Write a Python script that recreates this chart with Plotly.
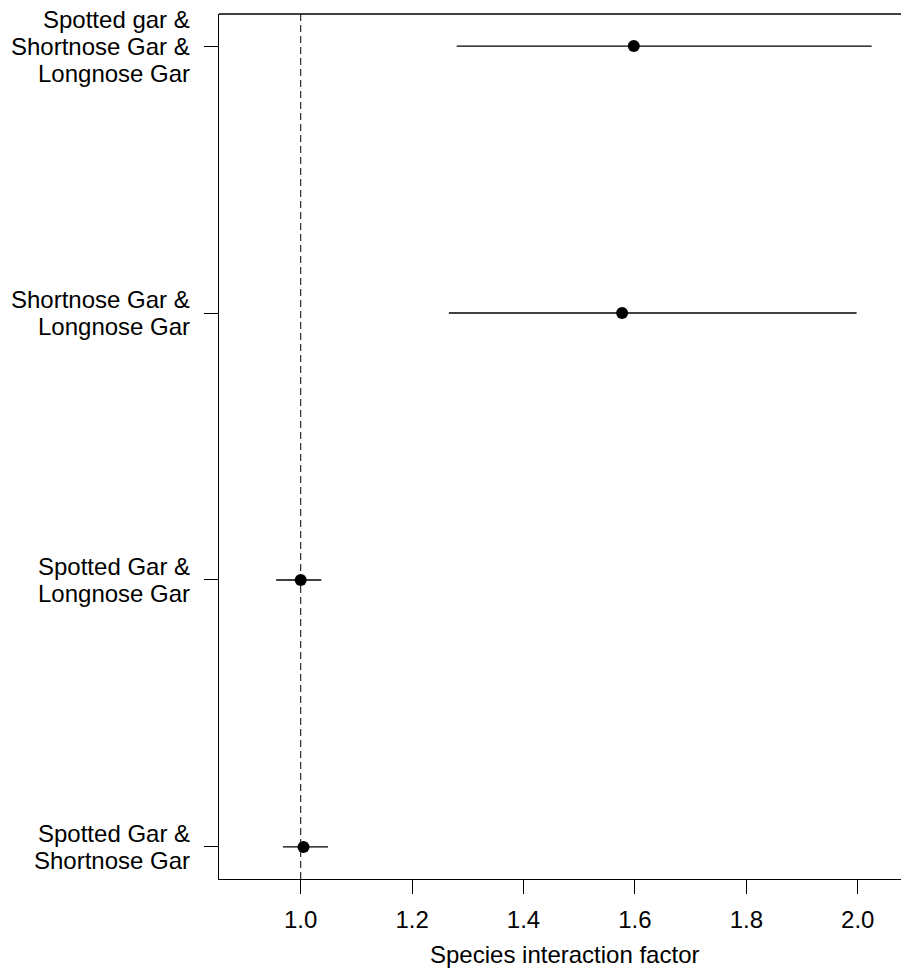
import plotly.graph_objects as go

labels = [
    "Spotted gar &<br>Shortnose Gar &<br>Longnose Gar",
    "Shortnose Gar &<br>Longnose Gar",
    "Spotted Gar &<br>Longnose Gar",
    "Spotted Gar &<br>Shortnose Gar",
]
positions = [4, 3, 2, 1]
estimate = [1.598, 1.577, 1.000, 1.005]
lower = [1.280, 1.266, 0.956, 0.968]
upper = [2.025, 1.998, 1.037, 1.049]
x_ticks = [1.0, 1.2, 1.4, 1.6, 1.8, 2.0]
x_tick_text = ["1.0", "1.2", "1.4", "1.6", "1.8", "2.0"]
x_title = "Species interaction factor"

FONT = "Liberation Sans, Arial, sans-serif"
FS = 24

fig = go.Figure()

# reference dashed line at 1
fig.add_shape(type="line", xref="x", yref="paper", x0=1, x1=1, y0=0, y1=1,
              line=dict(color="black", width=1, dash="7px,4px"))

# error bars
for p, lo, hi in zip(positions, lower, upper):
    fig.add_trace(go.Scatter(x=[lo, hi], y=[p, p], mode="lines",
                             line=dict(color="black", width=1.3),
                             showlegend=False, hoverinfo="skip"))

fig.add_trace(go.Scatter(x=estimate, y=positions, mode="markers",
                         marker=dict(color="black", size=12),
                         showlegend=False))

# top border line
fig.add_shape(type="line", xref="paper", yref="paper", x0=0, x1=1, y0=1, y1=1,
              line=dict(color="black", width=1.3))

# y labels as right-aligned multi-line annotations
LINE = 27
for lab, p in zip(labels, positions):
    lines = lab.split("<br>")
    n = len(lines)
    for i, ln in enumerate(lines):
        off = ((n - 1) / 2 - i) * LINE
        fig.add_annotation(x=0, xref="paper", y=p, yref="y", text=ln,
                           xanchor="right", yanchor="middle", xshift=-27, yshift=off,
                           showarrow=False, font=dict(family=FONT, size=FS, color="black"))

fig.add_annotation(x=0.506, xref="paper", y=0, yref="paper", text=x_title,
                   xanchor="center", yanchor="middle", yshift=-75,
                   showarrow=False, font=dict(family=FONT, size=FS, color="black"))

fig.update_layout(
    width=901, height=968,
    margin=dict(l=219, r=0, t=14, b=89),
    plot_bgcolor="white", paper_bgcolor="white",
    font=dict(family=FONT, size=FS, color="black"),
    xaxis=dict(range=[0.8533, 2.0777], showgrid=False, zeroline=False,
               showline=True, linecolor="black", linewidth=1.3,
               ticks="outside", ticklen=14, tickwidth=1.3, tickcolor="black",
               tickvals=x_ticks, ticktext=x_tick_text, ticklabelstandoff=5,
               tickfont=dict(family=FONT, size=FS, color="black")),
    yaxis=dict(range=[0.88, 4.12], showgrid=False, zeroline=False,
               showline=True, linecolor="black", linewidth=1.3,
               ticks="outside", ticklen=14, tickwidth=1.3, tickcolor="black",
               tickvals=positions, showticklabels=False),
)

fig.write_html(
    "out.html",
    config={"displayModeBar": False},
    post_script="document.body.style.margin='0';document.body.style.overflow='hidden';",
)
